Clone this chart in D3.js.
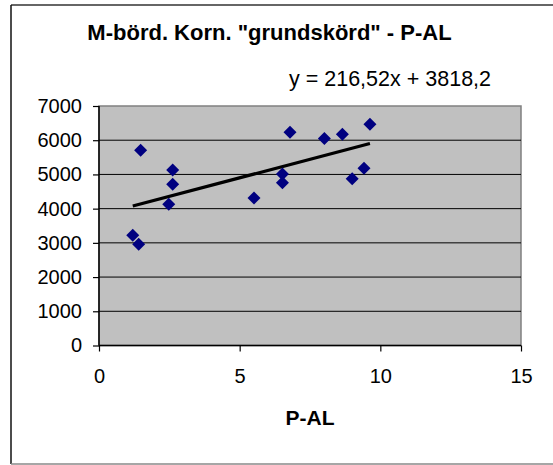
<!DOCTYPE html>
<html>
<head>
<meta charset="utf-8">
<script src="https://cdn.jsdelivr.net/npm/d3@7"></script>
<style>
  body { margin: 0; background: #fff; }
  svg { display: block; font-family: "Liberation Sans", Arial, sans-serif; }
</style>
</head>
<body>
<svg id="chart" width="553" height="465"></svg>
<script>
// P-AL vs yield
const pal = [1.48, 2.62, 2.62, 2.48, 1.20, 1.41, 5.51, 6.52, 6.52, 6.79, 8.01, 8.65, 9.00, 9.42, 9.63];
const yieldKg = [5707, 5132, 4713, 4129, 3222, 2959, 4313, 5015, 4760, 6234, 6047, 6175, 4877, 5181, 6468];
const slope = 216.52;
const intercept = 3818.2;
const xTicks = [0, 5, 10, 15];
const yTicks = [0, 1000, 2000, 3000, 4000, 5000, 6000, 7000];

const svg = d3.select("#chart");
const plot = { left: 99, right: 521, top: 106, bottom: 345.5 };

// outer chart frame
svg.append("line").attr("x1", 11).attr("x2", 553).attr("y1", 5).attr("y2", 5)
  .attr("stroke", "#333").attr("stroke-width", 1.5);
svg.append("line").attr("x1", 11).attr("x2", 11).attr("y1", 5).attr("y2", 464)
  .attr("stroke", "#111").attr("stroke-width", 1.5);
svg.append("line").attr("x1", 11).attr("x2", 553).attr("y1", 464).attr("y2", 464)
  .attr("stroke", "#888").attr("stroke-width", 1.5);

const x = d3.scaleLinear().domain([0, 15]).range([plot.left, plot.right]);
const y = d3.scaleLinear().domain([0, 7000]).range([plot.bottom, plot.top]);

svg.append("rect")
  .attr("x", plot.left).attr("y", plot.top)
  .attr("width", plot.right - plot.left).attr("height", plot.bottom - plot.top)
  .attr("fill", "#c0c0c0")
  .attr("stroke", "#808080").attr("stroke-width", 1.5);

// gridlines
svg.append("g")
  .selectAll("line")
  .data(yTicks.slice(1, -1))
  .enter()
  .append("line")
  .attr("x1", plot.left).attr("x2", plot.right)
  .attr("y1", (d) => y(d)).attr("y2", (d) => y(d))
  .attr("stroke", "#000").attr("stroke-width", 1);

const yAxis = svg.append("g")
  .attr("transform", `translate(${plot.left},0)`)
  .call(d3.axisLeft(y).tickValues(yTicks).tickFormat(d3.format("d")).tickSize(6).tickPadding(11));
const xAxis = svg.append("g")
  .attr("transform", `translate(0,${plot.bottom})`)
  .call(d3.axisBottom(x).tickValues(xTicks).tickFormat(d3.format("d")).tickSize(6).tickPadding(17));

[xAxis, yAxis].forEach((ax) => {
  ax.selectAll("path").attr("stroke", "#000").attr("stroke-width", 1.5);
  ax.selectAll("line").attr("stroke", "#000").attr("stroke-width", 1.2);
  ax.selectAll("text")
    .attr("fill", "#000")
    .style("font-family", "'Liberation Sans', Arial, sans-serif")
    .style("font-size", "20px");
});
yAxis.select(".domain").attr("d", `M0,${plot.bottom}V${plot.top}`);
xAxis.select(".domain").attr("d", `M${plot.left},0H${plot.right}`);

// trend line over the data range
const xr = d3.extent(pal);
svg.append("line")
  .attr("x1", x(xr[0])).attr("y1", y(slope * xr[0] + intercept))
  .attr("x2", x(xr[1])).attr("y2", y(slope * xr[1] + intercept))
  .attr("stroke", "#000").attr("stroke-width", 3.2);

// diamond markers
svg.append("g")
  .selectAll("path")
  .data(pal.map((p, i) => [p, yieldKg[i]]))
  .enter()
  .append("path")
  .attr("transform", (d) => `translate(${x(d[0])},${y(d[1])})`)
  .attr("d", "M0,-6.5L6.5,0L0,6.5L-6.5,0Z")
  .attr("fill", "#000080");

svg.append("text")
  .attr("x", 269.5).attr("y", 39.5)
  .attr("text-anchor", "middle")
  .style("font-size", "22px").style("font-weight", "bold")
  .text('M-börd. Korn. "grundskörd" - P-AL');

svg.append("text")
  .attr("x", 289).attr("y", 86)
  .style("font-size", "21.5px")
  .text("y = 216,52x + 3818,2");

svg.append("text")
  .attr("x", (plot.left + plot.right) / 2).attr("y", 425)
  .attr("text-anchor", "middle")
  .style("font-size", "21px").style("font-weight", "bold")
  .text("P-AL");
</script>
</body>
</html>
